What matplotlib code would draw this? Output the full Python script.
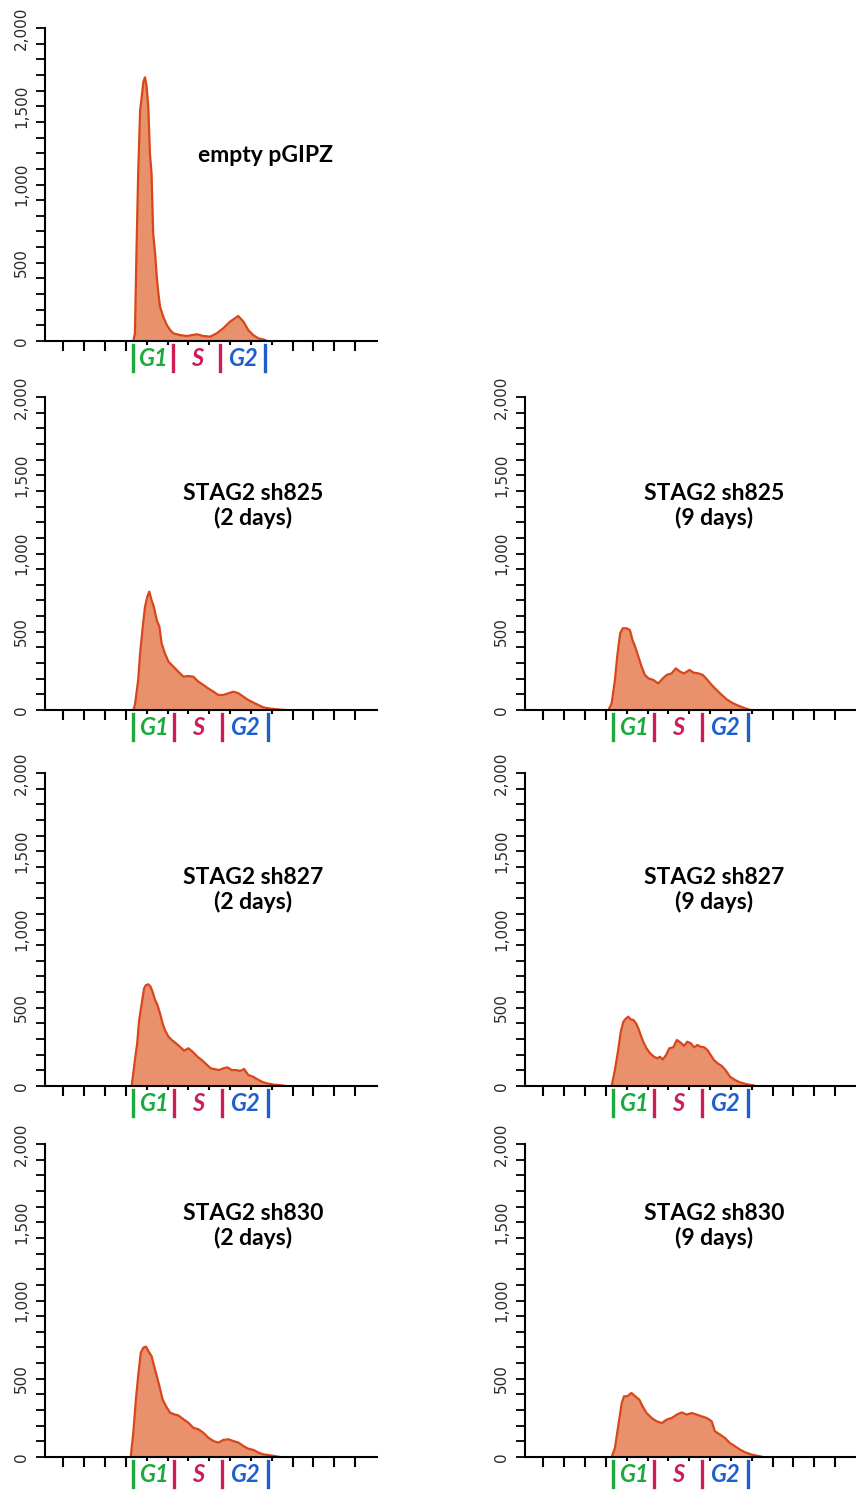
import numpy as np
import matplotlib.pyplot as plt

# DNA content histograms (channel, count)
ch_empty = [279, 284, 289, 294, 300, 305, 310, 315, 320, 325, 330, 335, 340, 346, 351, 356, 361,
            371, 382, 392, 402, 422, 443, 474, 494, 515, 535, 555, 576, 591, 601, 617, 632, 647,
            663, 683, 688]
cnt_empty = [0, 49, 592, 1071, 1476, 1561, 1657, 1685, 1625, 1497, 1199, 1071, 688, 560, 411, 305, 219,
             155, 102, 70, 49, 38, 32, 43, 32, 28, 49, 81, 124, 145, 160, 124, 70, 38,
             17, 7, 0]

ch_825_2d = [279, 284, 294, 300, 308, 315, 322, 328, 335, 342, 351, 359, 366, 376, 387, 402, 417,
             433, 448, 463, 479, 494, 509, 525, 540, 555, 571, 586, 602, 617, 632, 648, 663, 678,
             699, 724, 745]
cnt_825_2d = [0, 32, 192, 362, 533, 660, 724, 756, 703, 660, 575, 533, 426, 362, 309, 277, 245,
              213, 217, 213, 181, 160, 138, 117, 96, 96, 107, 117, 107, 85, 64, 47, 32, 17,
              9, 4, 0]

ch_825_9d = [264, 274, 284, 291, 300, 308, 320, 330, 338, 346, 356, 366, 376, 387, 402, 417, 431,
             443, 458, 471, 484, 496, 513, 525, 540, 554, 568, 581, 596, 612, 627, 643, 658, 678,
             699]
cnt_825_9d = [0, 43, 192, 341, 490, 522, 522, 511, 447, 405, 341, 277, 224, 202, 192, 170, 202,
              224, 234, 266, 245, 234, 256, 239, 234, 224, 192, 160, 128, 96, 68, 47, 32, 15,
              0]

ch_827_2d = [274, 284, 291, 297, 305, 312, 318, 325, 332, 338, 346, 353, 361, 369, 376, 387, 397,
             410, 422, 435, 448, 461, 476, 489, 502, 517, 530, 543, 555, 568, 581, 594, 607, 619,
             632, 646, 658, 673, 689, 709, 735, 745]
cnt_827_2d = [0, 166, 273, 422, 528, 624, 645, 650, 635, 603, 550, 518, 464, 400, 358, 315, 294,
              273, 251, 226, 241, 219, 187, 166, 141, 113, 107, 102, 113, 119, 102, 102, 96, 109,
              70, 60, 45, 28, 17, 9, 4, 0]

ch_827_9d = [274, 284, 294, 302, 310, 318, 325, 332, 341, 349, 356, 363, 371, 381, 392, 404, 414,
             422, 431, 441, 451, 463, 474, 486, 496, 506, 517, 527, 537, 547, 558, 568, 578, 588,
             599, 612, 625, 637, 653, 668, 689, 709, 714]
cnt_827_9d = [0, 102, 230, 347, 411, 432, 443, 426, 422, 400, 368, 326, 283, 241, 209, 187, 177,
              187, 170, 198, 241, 247, 294, 277, 256, 283, 273, 247, 262, 251, 247, 230, 198, 166,
              145, 128, 98, 60, 38, 23, 11, 4, 0]

ch_830_2d = [271, 279, 287, 294, 302, 310, 318, 328, 335, 343, 351, 359, 369, 379, 392, 404, 417,
             433, 448, 463, 479, 494, 509, 525, 540, 555, 571, 586, 602, 617, 632, 648, 663, 678,
             699, 724, 730]
cnt_830_2d = [0, 155, 368, 518, 667, 699, 705, 667, 645, 581, 518, 454, 368, 326, 283, 273, 266,
              241, 219, 187, 177, 155, 124, 102, 92, 109, 113, 102, 92, 70, 53, 45, 28, 17,
              11, 2, 0]

ch_830_9d = [274, 284, 294, 305, 312, 322, 335, 346, 359, 369, 381, 397, 412, 428, 443, 458, 474,
             489, 504, 520, 535, 550, 566, 581, 591, 607, 622, 637, 653, 668, 684, 704, 730, 738]
cnt_830_9d = [0, 58, 196, 345, 388, 388, 409, 388, 366, 324, 281, 249, 228, 217, 239, 249, 271,
              285, 271, 281, 271, 260, 249, 228, 164, 143, 121, 89, 68, 47, 30, 15, 4, 0]

titles = ['empty pGIPZ',
          'STAG2 sh825\n(2 days)', 'STAG2 sh825\n(9 days)',
          'STAG2 sh827\n(2 days)', 'STAG2 sh827\n(9 days)',
          'STAG2 sh830\n(2 days)', 'STAG2 sh830\n(9 days)']
histos = [(ch_empty, cnt_empty),
          (ch_825_2d, cnt_825_2d), (ch_825_9d, cnt_825_9d),
          (ch_827_2d, cnt_827_2d), (ch_827_9d, cnt_827_9d),
          (ch_830_2d, cnt_830_2d), (ch_830_9d, cnt_830_9d)]

# gate boundaries (G1 start, G1 end / S start, S end / G2 start, G2 end)
gates_empty = [279, 402, 546, 684]
gates_sh = [279, 403, 551, 692]
phase_names = ['G1', 'S', 'G2']

fill_col = '#E8916C'
line_col = '#D8461A'
gate_cols = ['#1DAA3C', '#D01C55', '#D01C55', '#1F5FCC']
phase_cols = ['#1DAA3C', '#D01C55', '#1F5FCC']

W, H = 856, 1493
fig = plt.figure(figsize=(W / 100, H / 100), dpi=100)

# pixel boxes: (left, top, baseline), title centre
col_left = [45, 525]
rows = [(28, 341), (397, 710), (773, 1086), (1144, 1457)]
title_y = [156, 506, 890, 1226]
title_x = [253, 714]

panels = [(0, 0)] + [(r, c) for r in range(1, 4) for c in range(2)]


def draw_panel(ax, ch, cnt, gates):
    ax.fill_between(ch, cnt, color=fill_col, lw=0)
    ax.plot(ch, cnt, color=line_col, lw=1.6)
    ax.set_xlim(8, 1027)
    ax.set_ylim(0, 2000)
    for s in ['top', 'right']:
        ax.spines[s].set_visible(False)
    for s in ['left', 'bottom']:
        ax.spines[s].set_linewidth(1.5)
    ax.set_yticks(np.arange(0, 2001, 500))
    ax.set_yticks(np.arange(0, 2001, 100), minor=True)
    ax.set_yticklabels(['0', '500', '1,000', '1,500', '2,000'], rotation=90, va='center',
                       fontsize=11, color='#2a2a2a', family='DejaVu Sans')
    ticks = np.arange(64, 961, 64)
    inner = (ticks >= 320) & (ticks <= 704)
    ax.set_xticks(ticks[~inner])
    ax.set_xticks(ticks[inner], minor=True)
    ax.set_xticklabels([])
    ax.tick_params(axis='y', which='both', direction='out', length=6.5, width=1.3, pad=5)
    ax.tick_params(axis='x', which='major', direction='out', length=7, width=1.5)
    ax.tick_params(axis='x', which='minor', direction='out', length=3, width=1.5)

    tr = ax.get_xaxis_transform()
    for g, c in zip(gates, gate_cols):
        ax.plot([g, g], [-0.013, -0.095], color=c, lw=2.4, transform=tr, clip_on=False)
    for i, (name, c) in enumerate(zip(phase_names, phase_cols)):
        xm = (gates[i] + gates[i + 1]) / 2
        ax.text(xm, -0.055, name, color=c, transform=tr, ha='center', va='center',
                fontsize=17, fontweight='bold', fontstyle='italic', family='Lato')


for k, (r, c) in enumerate(panels):
    top, base = rows[r]
    left = col_left[c]
    ax = fig.add_axes([left / W, 1 - base / H, 332 / W, (base - top) / H])
    ch, cnt = histos[k]
    draw_panel(ax, ch, cnt, gates_empty if k == 0 else gates_sh)
    tx = 265 if k == 0 else title_x[c]
    fig.text(tx / W, 1 - title_y[r] / H, titles[k], ha='center', va='center',
             multialignment='center', fontsize=16.5, fontweight='bold', family='Lato',
             linespacing=1.15)

plt.savefig('out.png', dpi=100)
